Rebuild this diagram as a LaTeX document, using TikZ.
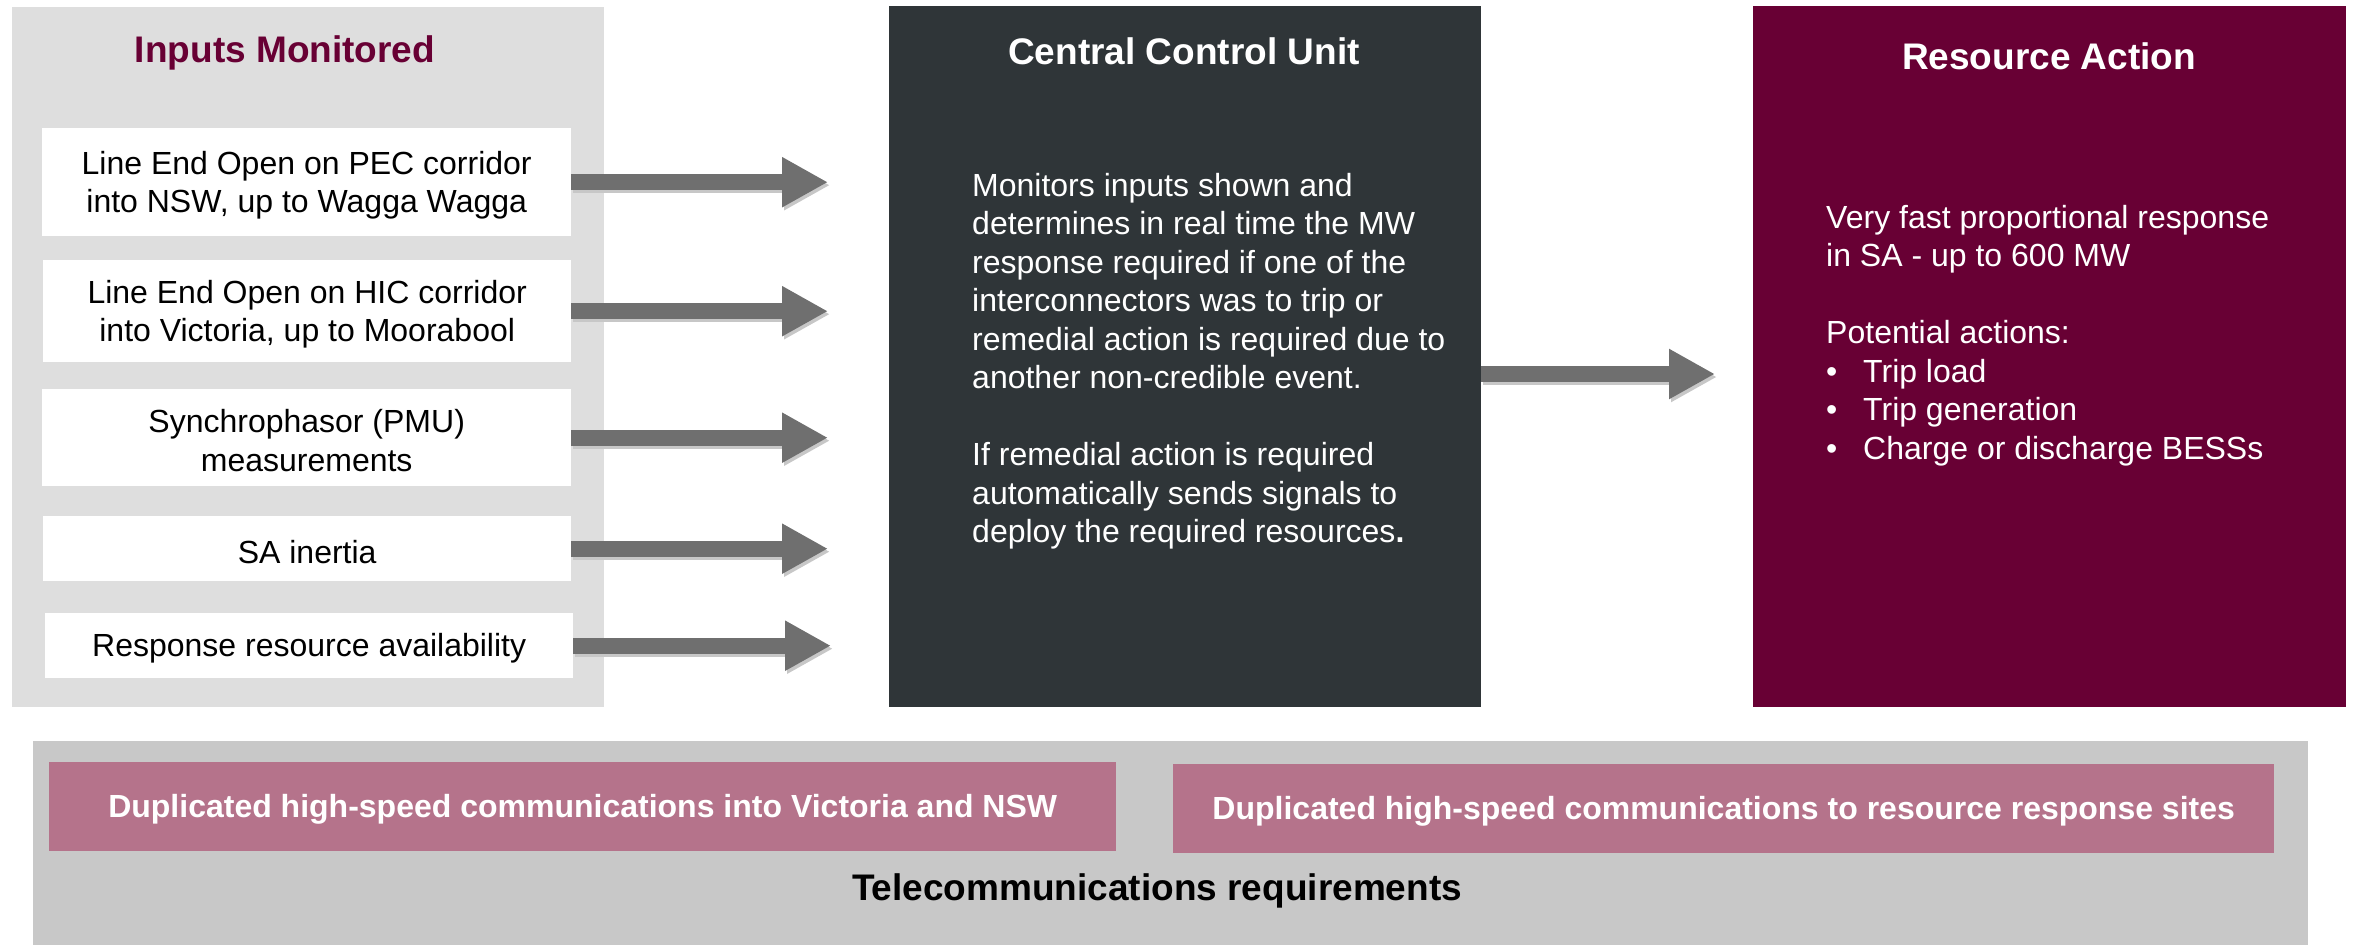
\documentclass[tikz,border=0pt]{standalone}
\usepackage{fontspec}
\setmainfont{Liberation Sans}
\usetikzlibrary{arrows.meta,calc}
\definecolor{panelgray}{HTML}{DEDEDE}
\definecolor{darkslate}{HTML}{2F3538}
\definecolor{maroonred}{HTML}{680034}
\definecolor{pinkbox}{HTML}{B5738B}
\definecolor{telegray}{HTML}{C8C8C8}
\definecolor{arrowgray}{HTML}{6F6F6F}
\newcommand\bodyfnt{\fontsize{32}{38.5}\selectfont}
\newcommand\titlefnt{\fontsize{37}{44}\selectfont\bfseries}
\begin{document}
\begin{tikzpicture}[x=1pt,y=-1pt,
  panel/.style={draw=none, inner sep=0pt, anchor=north west},
  inbox/.style={fill=white, inner sep=0pt, anchor=north west},
  intext/.style={inner sep=0pt, align=center, font=\bodyfnt, yshift=-3pt},
  ttl/.style={inner sep=0pt, font=\titlefnt},
  bodytxt/.style={inner sep=0pt, anchor=north west, align=left, font=\bodyfnt, text=white},
  pinkstyle/.style={fill=pinkbox, inner sep=0pt, anchor=north west},
  pinktext/.style={inner sep=0pt, text=white, font=\fontsize{32}{38}\selectfont\bfseries, yshift=-3pt},
  bigarrow/.style={draw=arrowgray, line width=16pt, -{Triangle[length=46pt,width=47pt]}},
  arrowshadow/.style={draw=black!22, line width=16pt, -{Triangle[length=46pt,width=47pt]}, transform canvas={xshift=2pt,yshift=-3pt}}
]
\useasboundingbox (0,0) rectangle (2354,945);

% panels
\node[panel, fill=panelgray, minimum width=592pt, minimum height=700pt] (inp) at (12,7) {};
\node[panel, fill=darkslate, minimum width=592pt, minimum height=701pt] (cc) at (889,6) {};
\node[panel, fill=maroonred, minimum width=593pt, minimum height=701pt] (ra) at (1753,6) {};
\node[panel, fill=telegray, minimum width=2275pt, minimum height=204pt] (tp) at (33,741) {};

% titles
\node[ttl, text=maroonred] (tin) at (285,53) {Inputs Monitored};
\node[ttl, text=white] (tcc) at (1184,51) {Central Control Unit};
\node[ttl, text=white] (tra) at (2049,56) {Resource Action};

% input boxes
\node[inbox, minimum width=529pt, minimum height=108pt,
  label={[intext]center:{Line End Open on PEC corridor\\into NSW, up to Wagga Wagga}}] (in1) at (42,128) {};
\node[inbox, minimum width=528pt, minimum height=102pt,
  label={[intext]center:{Line End Open on HIC corridor\\into Victoria, up to Moorabool}}] (in2) at (43,260) {};
\node[inbox, minimum width=529pt, minimum height=97pt,
  label={[intext]center:{Synchrophasor (PMU)\\measurements}}] (in3) at (42,389) {};
\node[inbox, minimum width=528pt, minimum height=65pt,
  label={[intext]center:{SA inertia}}] (in4) at (43,516) {};
\node[inbox, minimum width=528pt, minimum height=65pt,
  label={[intext]center:{Response resource availability}}] (in5) at (45,613) {};

% central text
\node[bodytxt] (cctxt) at (972,173) {Monitors inputs shown and\\
determines in real time the MW\\
response required if one of the\\
interconnectors was to trip or\\
remedial action is required due to\\
another non-credible event.\\[38.5pt]
If remedial action is required\\
automatically sends signals to\\
deploy the required resources\textbf{.}};

% resource text
\node[bodytxt] (ratxt) at (1826,205) {Very fast proportional response\\
in SA - up to 600 MW\\[38.5pt]
Potential actions:\\
\makebox[37pt][l]{•}Trip load\\
\makebox[37pt][l]{•}Trip generation\\
\makebox[37pt][l]{•}Charge or discharge BESSs};

% arrows
\foreach \n/\s in {in1/61,in2/61,in3/61,in4/61,in5/58}{
  \draw[arrowshadow, shorten >=\s pt] (\n.east) -- (\n.east -| cc.west);
  \draw[bigarrow, shorten >=\s pt] (\n.east) -- (\n.east -| cc.west);
}
\coordinate (ccout) at (cc.east |- 0,374);
\draw[arrowshadow, shorten >=38pt] (ccout) -- (ccout -| ra.west);
\draw[bigarrow, shorten >=38pt] (ccout) -- (ccout -| ra.west);

% telecom
\node[pinkstyle, minimum width=1067pt, minimum height=89pt,
  label={[pinktext]center:{Duplicated high-speed communications into Victoria and NSW}}] (p1) at (49,762) {};
\node[pinkstyle, minimum width=1101pt, minimum height=89pt,
  label={[pinktext]center:{Duplicated high-speed communications to resource response sites}}] (p2) at (1173,764) {};
\node[ttl, text=black] (ttp) at (1157,891) {Telecommunications requirements};
\end{tikzpicture}
\end{document}
